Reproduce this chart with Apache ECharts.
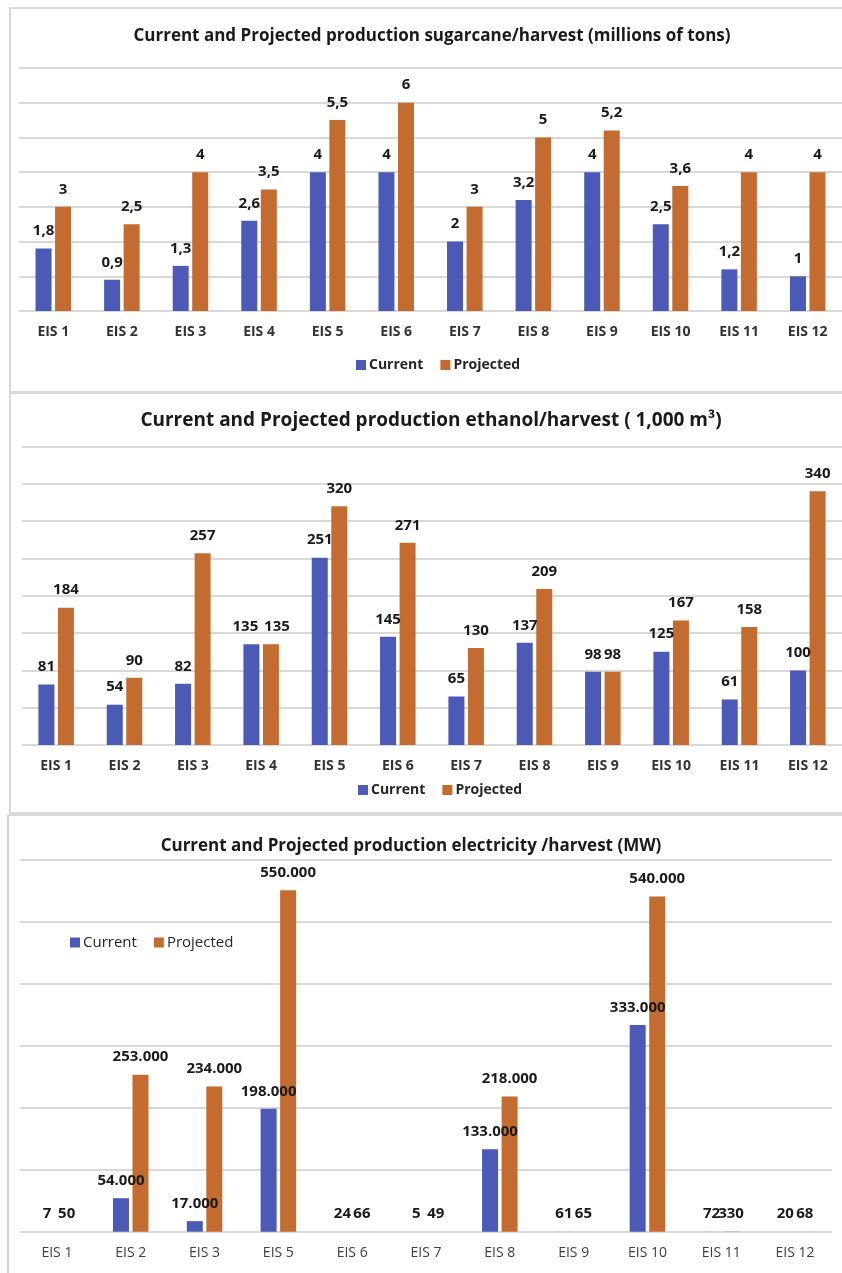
<!DOCTYPE html>
<html>
<head>
<meta charset="utf-8">
<script src="https://cdn.jsdelivr.net/npm/echarts@6/dist/echarts.min.js"></script>
<style>
  html, body { margin: 0; padding: 0; background: #ffffff; }
  #chart { width: 842px; height: 1273px; }
</style>
</head>
<body>
<div id="chart"></div>
<script>
// Sugarcane production per harvest (millions of tons)
const sugarCategories = ['EIS 1', 'EIS 2', 'EIS 3', 'EIS 4', 'EIS 5', 'EIS 6', 'EIS 7', 'EIS 8', 'EIS 9', 'EIS 10', 'EIS 11', 'EIS 12'];
const sugarCurrent = [1.8, 0.9, 1.3, 2.6, 4, 4, 2, 3.2, 4, 2.5, 1.2, 1];
const sugarProjected = [3, 2.5, 4, 3.5, 5.5, 6, 3, 5, 5.2, 3.6, 4, 4];

// Ethanol production per harvest (1,000 m³)
const ethanolCategories = ['EIS 1', 'EIS 2', 'EIS 3', 'EIS 4', 'EIS 5', 'EIS 6', 'EIS 7', 'EIS 8', 'EIS 9', 'EIS 10', 'EIS 11', 'EIS 12'];
const ethanolCurrent = [81, 54, 82, 135, 251, 145, 65, 137, 98, 125, 61, 100];
const ethanolProjected = [184, 90, 257, 135, 320, 271, 130, 209, 98, 167, 158, 340];

// Electricity production per harvest (MW)
const elecCategories = ['EIS 1', 'EIS 2', 'EIS 3', 'EIS 5', 'EIS 6', 'EIS 7', 'EIS 8', 'EIS 9', 'EIS 10', 'EIS 11', 'EIS 12'];
const elecCurrent = [7, 54000, 17000, 198000, 24, 5, 133000, 61, 333000, 72, 20];
const elecProjected = [50, 253000, 234000, 550000, 66, 49, 218000, 65, 540000, 330, 68];

const titles = [
  'Current and Projected production sugarcane/harvest (millions of tons)',
  'Current and Projected production ethanol/harvest ( 1,000 m\u00B3)',
  'Current and Projected production electricity /harvest (MW)'
];
const seriesNames = ['Current', 'Projected'];

const BLUE = '#4a5ab6';
const ORANGE = '#c46b30';
const GRID_LINE = '#d9d9d9';
const FONT = "'Open Sans', sans-serif";

const decimalComma = v => String(v).replace('.', ',');
const thousandsDot = v => String(v).replace(/\B(?=(\d{3})+(?!\d))/g, '.');

// Equal-valued neighbouring labels are pushed apart so they stay readable
const labelShift = { ethanolCurrent: { 3: -6 }, ethanolProjected: { 3: 6 } };

const chart = echarts.init(document.getElementById('chart'), null, { renderer: 'canvas' });

function xAxisFor(idx, cats, bold, color) {
  return {
    type: 'category', gridIndex: idx, data: cats,
    axisLine: { show: false }, axisTick: { show: false },
    axisLabel: { margin: 14, fontFamily: FONT, fontSize: 14, fontWeight: bold ? 'bold' : 'normal', color: color }
  };
}
function yAxisFor(idx, max, interval) {
  return {
    type: 'value', gridIndex: idx, min: 0, max: max, interval: interval,
    axisLine: { show: false }, axisTick: { show: false }, axisLabel: { show: false },
    splitLine: { show: true, lineStyle: { color: GRID_LINE, width: 2 } }
  };
}
function barSeries(idx, name, values, color, fmt, shifts) {
  const data = values.map((v, i) => {
    if (shifts && shifts[i] !== undefined) {
      return { value: v, label: { offset: [shifts[i], 0] } };
    }
    return v;
  });
  return {
    type: 'bar', name: name, xAxisIndex: idx, yAxisIndex: idx, data: data,
    barWidth: 16, barGap: '22%',
    itemStyle: { color: color },
    label: {
      show: true, position: 'top', distance: 10,
      fontFamily: FONT, fontSize: 15, fontWeight: 'bold', color: '#1a1a1a',
      formatter: p => fmt(p.value)
    }
  };
}
function legendFor(left, top, bold, size) {
  return {
    data: seriesNames.map(n => ({ name: n })),
    left: left, top: top, orient: 'horizontal', padding: 0,
    itemWidth: 10, itemHeight: 10, itemGap: 17, icon: 'rect',
    textStyle: { fontFamily: FONT, fontSize: size, fontWeight: bold ? 'bold' : 'normal', color: '#262626', padding: [0, 0, 0, -2] },
    selectedMode: false
  };
}
function titleText(text, x, y, size) {
  return {
    type: 'text', x: x, y: y, silent: true,
    style: { text: text, fontFamily: FONT, fontSize: size, fontWeight: 'bold', fill: '#1a1a1a', align: 'center', verticalAlign: 'middle' }
  };
}
function panel(x, y, w, h) {
  return {
    type: 'rect', shape: { x: x, y: y, width: w, height: h }, silent: true, z: -10,
    style: { fill: 'none', stroke: '#d9d9d9', lineWidth: 2 }
  };
}

const option = {
  animation: false,
  backgroundColor: '#ffffff',
  color: [BLUE, ORANGE],
  grid: [
    { left: 19, top: 68, width: 826, height: 243 },
    { left: 22, top: 446.5, width: 821, height: 298.5 },
    { left: 20, top: 859.3, width: 812, height: 372.4 }
  ],
  xAxis: [
    xAxisFor(0, sugarCategories, true, '#333333'),
    xAxisFor(1, ethanolCategories, true, '#333333'),
    xAxisFor(2, elecCategories, false, '#404040')
  ],
  yAxis: [
    yAxisFor(0, 7, 1),
    yAxisFor(1, 400, 50),
    yAxisFor(2, 600000, 100000)
  ],
  legend: [
    legendFor(356, 358, true, 14),
    legendFor(358, 783, true, 14),
    legendFor(70, 935, false, 15)
  ],
  series: [
    barSeries(0, seriesNames[0], sugarCurrent, BLUE, decimalComma),
    barSeries(0, seriesNames[1], sugarProjected, ORANGE, decimalComma),
    barSeries(1, seriesNames[0], ethanolCurrent, BLUE, String, labelShift.ethanolCurrent),
    barSeries(1, seriesNames[1], ethanolProjected, ORANGE, String, labelShift.ethanolProjected),
    barSeries(2, seriesNames[0], elecCurrent, BLUE, thousandsDot),
    barSeries(2, seriesNames[1], elecProjected, ORANGE, thousandsDot)
  ],
  graphic: [
    panel(10, 8, 860, 384),
    panel(10, 393, 860, 420),
    panel(8, 815, 862, 470),
    titleText(titles[0], 432, 36, 17),
    titleText(titles[1], 431, 421, 19),
    titleText(titles[2], 411, 846, 17)
  ]
};

chart.setOption(option);
</script>
</body>
</html>
